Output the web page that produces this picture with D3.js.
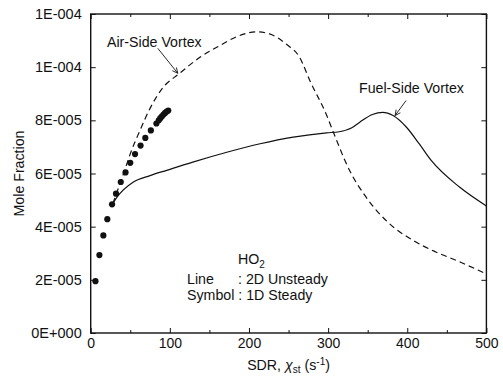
<!DOCTYPE html>
<html>
<head>
<meta charset="utf-8">
<script src="https://cdn.jsdelivr.net/npm/d3@7"></script>
<style>
  body { margin: 0; background: #fff; }
  svg { display: block; }
  text { font-family: Arial, "Liberation Sans", Helvetica, sans-serif; fill: #111; }
</style>
</head>
<body>
<svg id="chart" width="503" height="383"></svg>
<script>
// 1D steady flamelet results (symbols)
const sdrSymbol = [6, 11, 16, 21, 27, 32, 38, 44, 50, 56, 63, 69, 76, 83, 86, 88, 90, 92, 94, 96, 98];
const ho2Symbol = [1.95e-5, 2.93e-5, 3.67e-5, 4.28e-5, 4.84e-5, 5.24e-5, 5.68e-5, 6.04e-5, 6.40e-5, 6.73e-5,
                   7.05e-5, 7.34e-5, 7.62e-5, 7.88e-5, 8.00e-5, 8.08e-5, 8.15e-5, 8.22e-5, 8.28e-5, 8.33e-5, 8.37e-5];

// 2D unsteady, air-side vortex (dashed)
const sdrAir = [28, 35, 45, 50, 62, 75, 91, 112, 138, 163, 184, 209, 226, 247, 264, 277, 298, 306, 327, 348, 375, 407, 436, 466, 500];
const ho2Air = [4.87e-5, 5.45e-5, 6.30e-5, 6.74e-5, 7.60e-5, 8.45e-5, 9.22e-5, 9.76e-5, 1.037e-4, 1.081e-4,
                1.114e-4, 1.133e-4, 1.125e-4, 1.087e-4, 1.037e-4, 9.49e-5, 8.20e-5, 7.60e-5, 6.12e-5, 5.11e-5,
                4.18e-5, 3.49e-5, 3.05e-5, 2.68e-5, 2.22e-5];

// 2D unsteady, fuel-side vortex (solid)
const sdrFuel = [28, 33, 54, 75, 96, 129, 172, 214, 256, 298, 314, 330, 340, 356, 369, 382, 399, 415, 430, 466, 500];
const ho2Fuel = [4.87e-5, 5.10e-5, 5.68e-5, 5.92e-5, 6.12e-5, 6.43e-5, 6.80e-5, 7.12e-5, 7.37e-5, 7.53e-5,
                 7.57e-5, 7.72e-5, 7.93e-5, 8.22e-5, 8.30e-5, 8.18e-5, 7.74e-5, 7.12e-5, 6.50e-5, 5.49e-5, 4.78e-5];

// Axis ticks
const xMajor = [0, 100, 200, 300, 400, 500];
const xMinor = [50, 150, 250, 350, 450];
const yTicks = [0, 2e-5, 4e-5, 6e-5, 8e-5, 1e-4, 1.2e-4];
const yTickLabels = ["0E+000", "2E-005", "4E-005", "6E-005", "8E-005", "1E-004", "1E-004"];

const svg = d3.select("#chart");
const x = d3.scaleLinear().domain([0, 500]).range([90.7, 486.4]);
const y = d3.scaleLinear().domain([0, 1.2e-4]).range([333, 14]);
const [x0, x1] = x.range();
const [yb, yt] = y.range();
const FONT = 'Arial, "Liberation Sans", Helvetica, sans-serif';

function styleAxis(size) {
  return g => {
    g.select(".domain").remove();
    g.selectAll(".tick line").attr("stroke", "#111").attr("stroke-width", 1);
    g.selectAll("text").attr("font-size", size).attr("fill", "#111").attr("font-family", FONT);
  };
}

// bottom axis
svg.append("g").attr("transform", `translate(0,${yb})`)
  .call(d3.axisBottom(x).tickValues(xMajor).tickSize(-5).tickPadding(5).tickFormat(d3.format("d")))
  .call(styleAxis(14));
svg.append("g").attr("transform", `translate(0,${yb})`)
  .call(d3.axisBottom(x).tickValues(xMinor).tickSize(-3).tickFormat(""))
  .call(styleAxis(14));
// top axis
svg.append("g").attr("transform", `translate(0,${yt})`)
  .call(d3.axisTop(x).tickValues(xMajor).tickSize(-5).tickFormat(""))
  .call(styleAxis(14));
svg.append("g").attr("transform", `translate(0,${yt})`)
  .call(d3.axisTop(x).tickValues(xMinor).tickSize(-3).tickFormat(""))
  .call(styleAxis(14));
// left axis
svg.append("g").attr("transform", `translate(${x0},0)`)
  .call(d3.axisLeft(y).tickValues(yTicks).tickSize(-5).tickPadding(9)
    .tickFormat((d, i) => yTickLabels[i]))
  .call(styleAxis(14.5));
// right axis
svg.append("g").attr("transform", `translate(${x1},0)`)
  .call(d3.axisRight(y).tickValues(yTicks).tickSize(-5).tickFormat(""))
  .call(styleAxis(14));

// frame
svg.append("rect")
  .attr("x", x0).attr("y", yt).attr("width", x1 - x0).attr("height", yb - yt)
  .attr("fill", "none").attr("stroke", "#111").attr("stroke-width", 1.4);

// curves
const line = d3.line().x(d => x(d[0])).y(d => y(d[1])).curve(d3.curveMonotoneX);
const airData = d3.zip(sdrAir, ho2Air);
const fuelData = d3.zip(sdrFuel, ho2Fuel);

svg.append("path").datum(airData).attr("d", line)
  .attr("fill", "none").attr("stroke", "#111").attr("stroke-width", 1.2)
  .attr("stroke-dasharray", "6,4");
svg.append("path").datum(fuelData).attr("d", line)
  .attr("fill", "none").attr("stroke", "#111").attr("stroke-width", 1.2);

// symbols
svg.append("g").selectAll("circle").data(d3.zip(sdrSymbol, ho2Symbol)).join("circle")
  .attr("cx", d => x(d[0])).attr("cy", d => y(d[1])).attr("r", 3.1).attr("fill", "#111");

// annotations with arrows
function arrow(tipSdr, tipVal, dx, dy) {
  const tx = x(tipSdr), ty = y(tipVal);
  const sx = tx + dx, sy = ty + dy;
  const ang = Math.atan2(ty - sy, tx - sx);
  const L = 6, w = 0.45;
  const p1 = [tx - L * Math.cos(ang - w), ty - L * Math.sin(ang - w)];
  const p2 = [tx - L * Math.cos(ang + w), ty - L * Math.sin(ang + w)];
  svg.append("path")
    .attr("d", `M${sx},${sy}L${tx},${ty}M${p1[0]},${p1[1]}L${tx},${ty}L${p2[0]},${p2[1]}`)
    .attr("fill", "none").attr("stroke", "#111").attr("stroke-width", 0.9);
}

svg.append("text").attr("x", 107).attr("y", 46.5).attr("font-size", 14.2).text("Air-Side Vortex");
arrow(110, 9.77e-5, -20, -25);

svg.append("text").attr("x", 359).attr("y", 93).attr("font-size", 14.2).text("Fuel-Side Vortex");
arrow(384.6, 8.18e-5, 11, -15);

// species / legend note
const note = svg.append("g").attr("font-size", 14.2);
const ho2 = note.append("text").attr("x", 238).attr("y", 264);
ho2.append("tspan").text("HO");
ho2.append("tspan").attr("font-size", 10).attr("dy", 4).text("2");
note.append("text").attr("x", 187).attr("y", 284).text("Line");
note.append("text").attr("x", 238).attr("y", 284).text(": 2D Unsteady");
note.append("text").attr("x", 187).attr("y", 300).text("Symbol : 1D Steady");

// axis titles
const xt = svg.append("text").attr("x", (x0 + x1) / 2).attr("y", 370)
  .attr("text-anchor", "middle").attr("font-size", 14.2);
xt.append("tspan").text("SDR, ");
xt.append("tspan").attr("font-style", "italic").text("χ");
xt.append("tspan").attr("font-size", 10).attr("dy", 3).text("st");
xt.append("tspan").attr("dy", -3).text(" (s");
xt.append("tspan").attr("font-size", 10).attr("dy", -5).text("-1");
xt.append("tspan").attr("dy", 5).text(")");

svg.append("text")
  .attr("transform", `translate(24,${(yb + yt) / 2}) rotate(-90)`)
  .attr("text-anchor", "middle").attr("font-size", 14.2).text("Mole Fraction");
</script>
</body>
</html>
